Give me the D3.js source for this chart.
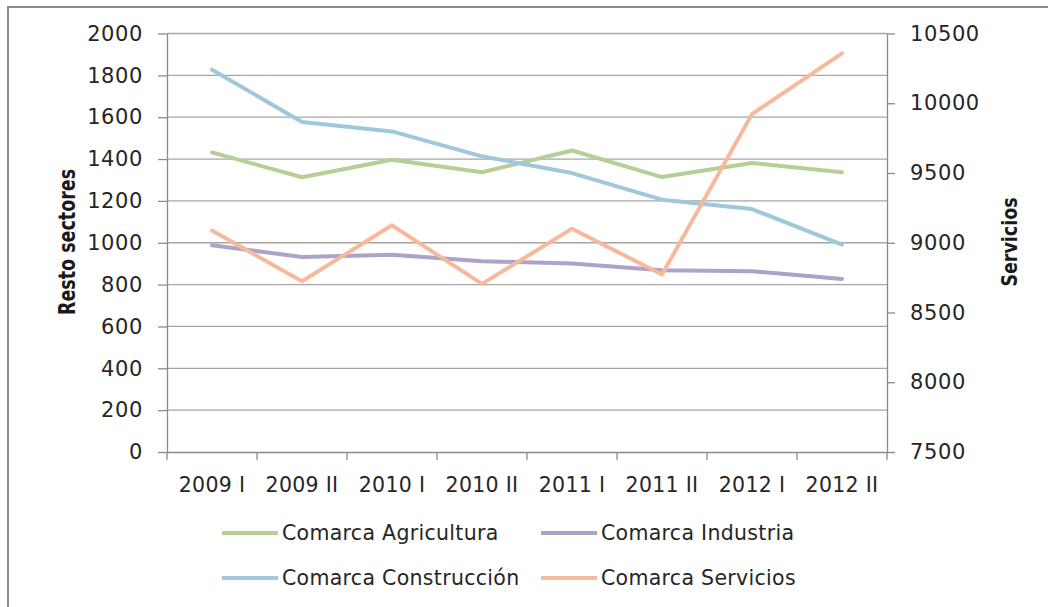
<!DOCTYPE html>
<html><head><meta charset="utf-8">
<script src="https://cdn.jsdelivr.net/npm/d3@7"></script>
<style>body{margin:0;background:#fff}svg{display:block}</style>
</head><body>
<script>
const categories = ["2009 I","2009 II","2010 I","2010 II","2011 I","2011 II","2012 I","2012 II"];
const agricultura = [1432,1313,1397,1337,1441,1314,1381,1337];
const industria = [988,932,943,912,901,869,864,827];
const construccion = [1827,1577,1532,1413,1333,1206,1161,991];
const servicios = [9087,8724,9125,8705,9101,8772,9922,10358];
const leftTicks = [0,200,400,600,800,1000,1200,1400,1600,1800,2000];
const rightTicks = [7500,8000,8500,9000,9500,10000,10500];

const W = 1048, H = 607;
const font = "DejaVu Sans";
const svg = d3.select("body").append("svg").attr("width", W).attr("height", H);
svg.append("rect").attr("x",8).attr("y",7).attr("width",1200).attr("height",800)
  .attr("fill","#fff").attr("stroke","#8c8c8c").attr("stroke-width",2);

const L = 167, R = 887, T = 33.5, B = 452;
const x = d3.scaleBand().domain(categories).range([L,R]);
const yL = d3.scaleLinear().domain([0,2000]).range([B,T]);
const yR = d3.scaleLinear().domain([7500,10500]).range([B,T]);
const axisColor = "#8a8a8a";

svg.append("g").selectAll("line").data(leftTicks.filter(d=>d>0)).join("line")
  .attr("x1",L).attr("x2",R).attr("y1",d=>yL(d)).attr("y2",d=>yL(d))
  .attr("stroke","#a6a6a6").attr("stroke-width",1.3);

const gl = svg.append("g").attr("transform",`translate(${L},0)`)
  .call(d3.axisLeft(yL).tickValues(leftTicks).tickFormat(d3.format("d")).tickSize(9).tickPadding(15).tickSizeOuter(0));
const gr = svg.append("g").attr("transform",`translate(${R},0)`)
  .call(d3.axisRight(yR).tickValues(rightTicks).tickFormat(d3.format("d")).tickSize(8).tickPadding(15).tickSizeOuter(0));
const gb = svg.append("g").attr("transform",`translate(0,${B})`)
  .call(d3.axisBottom(x).tickSize(0).tickPadding(25).tickSizeOuter(0));
svg.append("g").selectAll("line").data(categories.concat([null])).join("line")
  .attr("x1",(d,i)=>L+i*x.step()).attr("x2",(d,i)=>L+i*x.step())
  .attr("y1",B).attr("y2",B+8).attr("stroke",axisColor).attr("stroke-width",1.3);

[gl,gr,gb].forEach(g=>{
  g.selectAll("path,line").attr("stroke",axisColor).attr("stroke-width",1.3);
  g.selectAll("text").attr("font-family",font).attr("font-size",21).attr("letter-spacing","0.6px").attr("fill","#262626");
});
gb.selectAll("text").attr("font-size",20.5).attr("letter-spacing","0.3px");

svg.append("text").attr("transform","translate(75,242) rotate(-90) scale(1,1.3)")
  .attr("text-anchor","middle").attr("font-family",font).attr("font-weight","bold")
  .attr("font-size",17.5).attr("fill","#1a1a1a").text("Resto sectores");
svg.append("text").attr("transform","translate(1017,242) rotate(-90) scale(1,1.2)")
  .attr("text-anchor","middle").attr("font-family",font).attr("font-weight","bold")
  .attr("font-size",17.5).attr("fill","#1a1a1a").text("Servicios");

const series = [
  {name:"Comarca Agricultura", values:agricultura, color:"#b6cf98", scale:yL},
  {name:"Comarca Industria", values:industria, color:"#aca3c8", scale:yL},
  {name:"Comarca Construcción", values:construccion, color:"#9fc8db", scale:yL},
  {name:"Comarca Servicios", values:servicios, color:"#f6b99c", scale:yR}
];
const cx = c => x(c) + x.bandwidth()/2;
series.forEach(s=>{
  const line = d3.line().x((d,i)=>cx(categories[i])).y(d=>s.scale(d));
  svg.append("path").datum(s.values).attr("d",line).attr("fill","none")
    .attr("stroke",s.color).attr("stroke-width",4).attr("stroke-linejoin","round").attr("stroke-linecap","round");
});

const legPos = [[222,533],[541,533],[222,578],[541,578]];
series.forEach((s,i)=>{
  const [lx,ly] = legPos[i];
  svg.append("line").attr("x1",lx).attr("x2",lx+56).attr("y1",ly).attr("y2",ly)
    .attr("stroke",s.color).attr("stroke-width",4);
  svg.append("text").attr("x",lx+60).attr("y",ly).attr("dy","0.35em")
    .attr("font-family",font).attr("font-size",20.5).attr("letter-spacing","0.3px").attr("fill","#262626").text(s.name);
});
</script>
</body></html>
